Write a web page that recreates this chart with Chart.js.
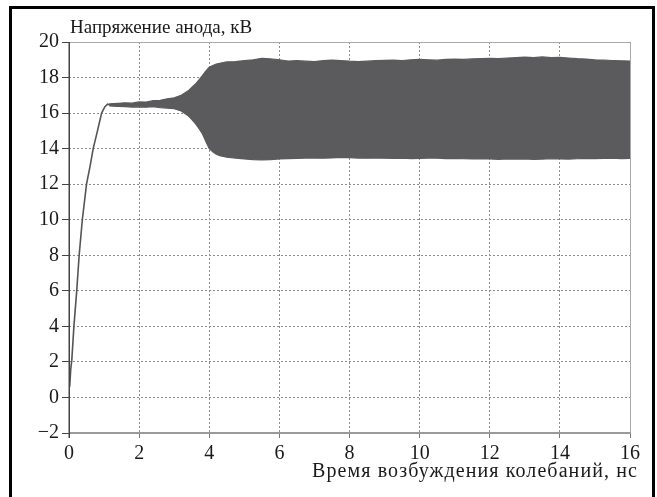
<!DOCTYPE html>
<html lang="ru">

<head>
    <meta charset="UTF-8">
    <title>Напряжение анода</title>
    <script src="https://cdn.jsdelivr.net/npm/chart.js"></script>
    <style>
        html, body { margin: 0; padding: 0; background: #fff; }
        canvas { display: block; }
    </style>
</head>

<body>
    <canvas id="anodeChart" width="657" height="497"></canvas>

    <script>
        // rising part of the anode voltage (ns, kV)
        const riseTime = [0.02, 0.05, 0.08, 0.14, 0.22, 0.29, 0.38, 0.50, 0.60, 0.69, 0.80, 0.93, 1.02, 1.10, 1.20];
        const riseVolt = [0.6, 1.6, 2.1, 4.0, 6.0, 8.0, 10.0, 12.0, 13.0, 14.0, 14.9, 16.0, 16.35, 16.5, 16.45];

        // envelope of the oscillation band (ns, kV)
        const bandTime = [1.15, 1.4, 1.6, 1.8, 2.0, 2.2, 2.4, 2.6, 2.8, 3.0, 3.2, 3.4, 3.5, 3.6, 3.7, 3.8, 3.9, 4.0, 4.1, 4.2, 4.3, 4.4,
            4.5, 4.75, 5.0, 5.25, 5.5, 5.75, 6.0, 6.25, 6.5, 6.75, 7.0, 7.25, 7.5, 7.75, 8.0, 8.25, 8.5, 8.75, 9.0, 9.25,
            9.5, 9.75, 10.0, 10.25, 10.5, 10.75, 11.0, 11.25, 11.5, 11.75, 12.0, 12.25, 12.5, 12.75, 13.0, 13.25, 13.5, 13.75,
            14.0, 14.25, 14.5, 14.75, 15.0, 15.25, 15.5, 15.75, 16.0];
        const bandUpper = [16.52, 16.55, 16.58, 16.56, 16.63, 16.62, 16.7, 16.72, 16.8, 16.86, 17.0, 17.25, 17.45, 17.62, 17.85, 18.1, 18.36, 18.58, 18.68, 18.76, 18.8, 18.84,
            18.88, 18.9, 18.95, 19.0, 19.08, 19.05, 19.0, 18.93, 18.95, 18.92, 18.9, 18.95, 18.98, 18.96, 18.92, 18.9, 18.92, 18.95, 18.97, 18.98,
            18.96, 19.0, 19.02, 19.0, 18.98, 19.02, 19.04, 19.02, 19.05, 19.06, 19.08, 19.06, 19.1, 19.12, 19.15, 19.12, 19.16, 19.12,
            19.14, 19.1, 19.06, 19.04, 19.0, 18.98, 18.96, 18.94, 18.93];
        const bandLower = [16.4, 16.37, 16.36, 16.34, 16.35, 16.33, 16.36, 16.3, 16.28, 16.25, 16.12, 15.85, 15.65, 15.42, 15.15, 14.85, 14.42, 14.0, 13.82, 13.68, 13.6, 13.56,
            13.52, 13.47, 13.42, 13.38, 13.36, 13.38, 13.42, 13.44, 13.45, 13.47, 13.48, 13.46, 13.48, 13.5, 13.49, 13.47, 13.46, 13.48, 13.46, 13.45,
            13.46, 13.44, 13.45, 13.47, 13.46, 13.44, 13.45, 13.43, 13.42, 13.44, 13.42, 13.4, 13.42, 13.41, 13.42, 13.4, 13.41, 13.43,
            13.42, 13.41, 13.43, 13.45, 13.44, 13.45, 13.46, 13.44, 13.45];

        const yTitle = 'Напряжение анода, кВ';
        const xTitle = 'Время возбуждения колебаний, нс';

        const serif = '"Liberation Serif", "Times New Roman", serif';
        const bandColor = '#5b5b5d';

        const pairs = (xs, ys) => xs.map((x, i) => ({ x: x, y: ys[i] }));

        // outer frame, plot frame, axis lines and both captions
        const framePlugin = {
            id: 'frame',
            afterDraw(chart) {
                const { ctx, chartArea: a } = chart;
                ctx.save();
                // page frame
                ctx.strokeStyle = '#000';
                ctx.lineWidth = 3;
                ctx.strokeRect(10.5, 7.5, 643, 500);
                // top and right of plot
                ctx.strokeStyle = '#a8a8a8';
                ctx.lineWidth = 1;
                ctx.beginPath();
                ctx.moveTo(a.left, a.top + 0.5);
                ctx.lineTo(a.right + 0.5, a.top + 0.5);
                ctx.lineTo(a.right + 0.5, a.bottom);
                ctx.stroke();
                // bottom axis
                ctx.strokeStyle = '#9a9a9a';
                ctx.lineWidth = 2;
                ctx.beginPath();
                ctx.moveTo(a.left, a.bottom);
                ctx.lineTo(a.right + 1, a.bottom);
                ctx.stroke();
                // left axis
                ctx.strokeStyle = '#444';
                ctx.lineWidth = 1.5;
                ctx.beginPath();
                ctx.moveTo(a.left + 0.25, a.top);
                ctx.lineTo(a.left + 0.25, a.bottom + 5);
                ctx.stroke();
                // captions
                ctx.fillStyle = '#1a1a1a';
                ctx.font = '19px ' + serif;
                ctx.textBaseline = 'alphabetic';
                ctx.textAlign = 'left';
                ctx.fillText(yTitle, a.left + 1, a.top - 9);
                ctx.font = '20px ' + serif;
                ctx.textAlign = 'right';
                ctx.letterSpacing = '1.1px';
                ctx.fillText(xTitle, a.right + 8, a.bottom + 44);
                ctx.restore();
            }
        };

        const ctx = document.getElementById('anodeChart').getContext('2d');

        new Chart(ctx, {
            type: 'line',
            data: {
                datasets: [{
                    data: pairs(riseTime, riseVolt),
                    borderColor: '#555557',
                    borderWidth: 1.6,
                    pointRadius: 0,
                    fill: false
                }, {
                    data: pairs(bandTime, bandUpper),
                    borderColor: bandColor,
                    backgroundColor: bandColor,
                    borderWidth: 1.2,
                    pointRadius: 0,
                    fill: '+1'
                }, {
                    data: pairs(bandTime, bandLower),
                    borderColor: bandColor,
                    borderWidth: 1.2,
                    pointRadius: 0,
                    fill: false
                }]
            },
            options: {
                responsive: false,
                animation: false,
                layout: { padding: { top: 42, right: 27, left: 0, bottom: 0 } },
                plugins: {
                    legend: { display: false },
                    tooltip: { enabled: false }
                },
                scales: {
                    x: {
                        type: 'linear',
                        min: 0,
                        max: 16,
                        afterFit: (axis) => { axis.height = 64; },
                        ticks: {
                            stepSize: 2,
                            padding: 4,
                            maxRotation: 0,
                            color: '#1a1a1a',
                            font: { family: serif, size: 20 }
                        },
                        grid: {
                            color: '#8c8c8c',
                            lineWidth: 1,
                            tickLength: 5,
                            tickColor: '#777',
                            tickBorderDash: []
                        },
                        border: { display: false, dash: [2, 2] }
                    },
                    y: {
                        min: -2,
                        max: 20,
                        afterFit: (axis) => { axis.width = 69; },
                        ticks: {
                            stepSize: 2,
                            padding: 3,
                            color: '#1a1a1a',
                            font: { family: serif, size: 20 },
                            callback: (v) => v < 0 ? '\u2212' + Math.abs(v) : String(v)
                        },
                        grid: {
                            color: '#8c8c8c',
                            lineWidth: 1,
                            tickLength: 7,
                            tickColor: '#444',
                            tickBorderDash: []
                        },
                        border: { display: false, dash: [2, 2] }
                    }
                }
            },
            plugins: [framePlugin]
        });
    </script>
</body>

</html>
